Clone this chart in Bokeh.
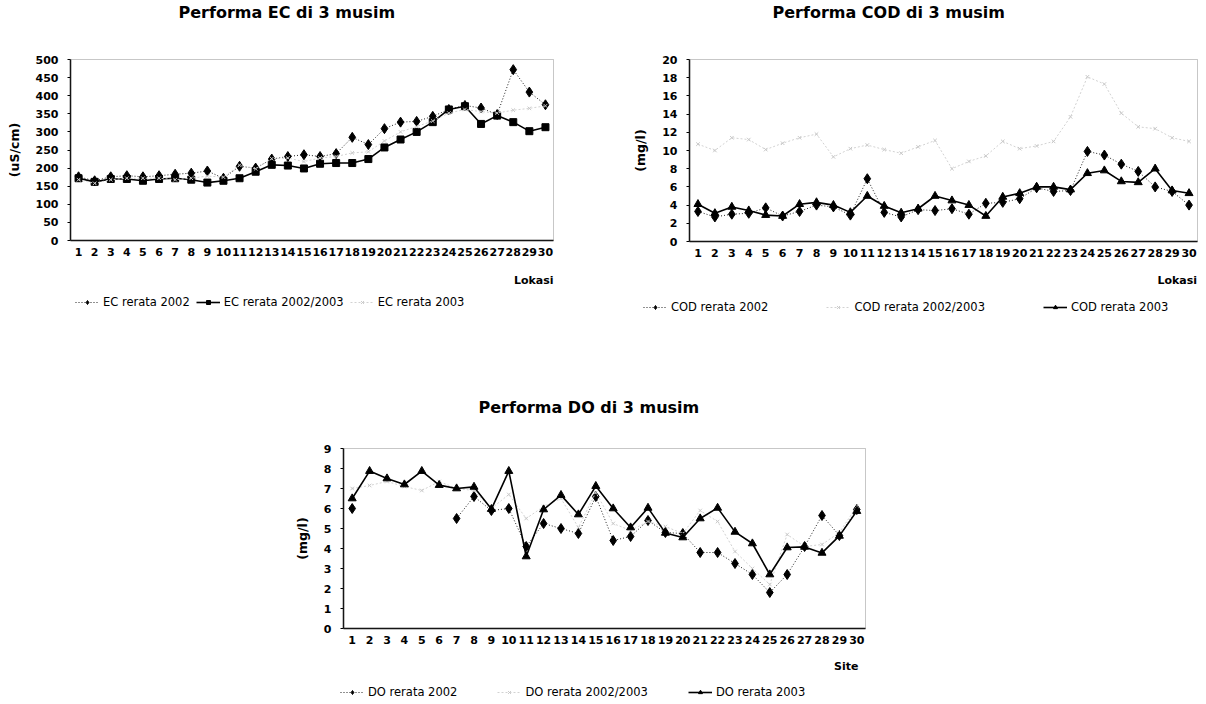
import math
from bokeh.plotting import figure
from bokeh.models import (Range1d, FixedTicker, Legend, LegendItem, Title, Spacer,
                          BoxAnnotation, Label)
from bokeh.layouts import column, row
from bokeh.embed import file_html
from bokeh.resources import INLINE

nan = float("nan")

# ---------------- data ----------------
sites = list(range(1, 31))

ec_2002 = [176, 165, 176, 179, 176, 179, 183, 186, 192, 172, 205, 200, 225, 232, 237,
           232, 240, 285, 265, 309, 327, 329, 343, 362, 373, 366, 348, 472, 410, 375]
ec_2002_2003 = [172, 162, 170, 170, 165, 170, 172, 168, 160, 165, 172, 190, 209, 207, 199,
                212, 214, 214, 225, 257, 279, 300, 327, 362, 371, 322, 345, 327, 302, 313]
ec_2003 = [168, 158, 168, 172, 172, 172, 168, 172, 178, 175, 208, 198, 226, 228, 218,
           228, 232, 242, 245, 275, 300, 315, 330, 352, 362, 356, 352, 360, 365, 372]

cod_2002 = [3.3, 2.7, 3.0, 3.1, 3.7, 2.8, 3.3, 4.0, 3.8, 2.9, 6.9, 3.2, 2.7, 3.5, 3.4,
            3.6, 3.0, 4.2, 4.3, 4.7, 5.9, 5.5, 5.6, 9.9, 9.5, 8.5, 7.7, 6.0, 5.5, 4.0]
cod_2002_2003 = [10.7, 10.0, 11.4, 11.2, 10.1, 10.8, 11.4, 11.8, 9.3, 10.2, 10.6, 10.1, 9.7, 10.4, 11.1,
                 8.0, 8.8, 9.4, 11.0, 10.2, 10.5, 11.0, 13.7, 18.1, 17.3, 14.1, 12.6, 12.4, 11.4, 11.0]
cod_2003 = [4.1, 3.1, 3.8, 3.4, 2.9, 2.8, 4.1, 4.3, 4.0, 3.2, 5.0, 3.9, 3.15, 3.6, 5.0,
            4.5, 4.0, 2.8, 4.9, 5.3, 6.0, 6.0, 5.7, 7.5, 7.8, 6.6, 6.5, 8.0, 5.6, 5.3]

do_2002 = [6.0, nan, nan, nan, nan, nan, 5.5, 6.6, 5.9, 6.0, 4.1, 5.25, 5.0, 4.75, 6.6,
           4.4, 4.6, 5.4, 4.8, 4.75, 3.8, 3.8, 3.25, 2.7, 1.8, 2.7, 4.1, 5.65, 4.65, 5.95]
do_2002_2003 = [7.0, 7.15, 7.35, 7.1, 6.9, 7.35, 7.0, 6.9, 6.0, 6.7, 5.5, 6.1, 6.5, 5.05, 6.8,
                5.25, 4.9, 5.35, 5.1, 4.75, 5.9, 5.35, 3.85, 3.0, 2.2, 4.7, 4.1, 4.2, 4.8, 6.1]
do_2003 = [6.5, 7.87, 7.5, 7.2, 7.87, 7.17, 7.0, 7.08, 5.97, 7.87, 3.6, 5.95, 6.67, 5.7, 7.12,
           6.0, 5.05, 6.03, 4.78, 4.55, 5.5, 6.03, 4.83, 4.25, 2.7, 4.05, 4.08, 3.78, 4.63, 5.87]

FONT = "DejaVu Sans"
TOP_EXTRA = 8   # px of frame above the data area so the top tick label is not clipped


def add_series(p, y, kind):
    if kind == "diamond":
        ln = p.line(sites, y, line_color="#222222", line_width=1, line_dash="1 2")
        mk = p.scatter(sites, y, marker="diamond", size=10, fill_color="black", line_color="black")
    elif kind == "square":
        ln = p.line(sites, y, line_color="black", line_width=1.6)
        mk = p.scatter(sites, y, marker="square", size=7, fill_color="black", line_color="black")
    elif kind == "triangle":
        ln = p.line(sites, y, line_color="black", line_width=1.6)
        mk = p.scatter(sites, y, marker="triangle", size=8, fill_color="black", line_color="black")
    else:
        ln = p.line(sites, y, line_color="#d2d2d2", line_width=1, line_dash="2 2")
        mk = p.scatter(sites, y, marker="x", size=5, line_color="#c8c8c8")
    return [ln, mk]


def make_chart(title, title_offset, title_gap, ylabel, xlabel, ymax, ystep, series,
               canvas_w, data_left, data_w, top_border, data_h, below_h,
               xlabel_dx, xlabel_dy, legend_vx, legend_vy, legend_spacing):
    upx = 30.0 / data_w                     # x units per pixel
    x0 = 0.5 - data_left * upx
    x1 = 30.5 + (canvas_w - data_left - data_w) * upx
    vpx = ymax / float(data_h)              # y units per pixel
    y0 = -below_h * vpx
    y1 = ymax + TOP_EXTRA * vpx

    p = figure(frame_width=canvas_w, frame_height=TOP_EXTRA + data_h + below_h,
               x_range=Range1d(x0, x1), y_range=Range1d(y0, y1),
               output_backend="svg", toolbar_location=None,
               min_border_left=0, min_border_right=0,
               min_border_top=top_border - TOP_EXTRA, min_border_bottom=0,
               background_fill_color="white", border_fill_color="white")
    p.title.visible = False
    p.outline_line_color = None
    p.xgrid.visible = False
    p.ygrid.visible = False

    p.add_layout(Title(text=" ", text_font_size="1px", standoff=title_gap), "above")
    p.add_layout(Title(text=title, align="left", offset=title_offset, standoff=0,
                       text_font=FONT, text_font_size="16px", text_font_style="bold",
                       text_color="black"), "above")

    p.add_layout(BoxAnnotation(left=0.5, right=30.5, bottom=0, top=ymax,
                               fill_alpha=0, line_color="#444444", line_width=1))

    xa = p.xaxis[0]
    xa.fixed_location = 0
    xa.bounds = (0.5, 30.5)
    xa.ticker = FixedTicker(ticks=sites)
    xa.major_tick_out = 0
    xa.major_tick_in = 0
    xa.minor_tick_out = 0
    xa.minor_tick_in = 0
    xa.major_label_standoff = 7
    xa.major_label_text_font = FONT
    xa.major_label_text_font_size = "11px"
    xa.major_label_text_font_style = "bold"
    xa.major_label_text_color = "black"
    xa.axis_line_color = "black"
    xa.axis_line_width = 1.5

    ya = p.yaxis[0]
    ya.fixed_location = 0.5
    ya.bounds = (0, ymax)
    ya.ticker = FixedTicker(ticks=[i * ystep for i in range(int(round(ymax / ystep)) + 1)])
    ya.major_tick_out = 3
    ya.major_tick_in = 0
    ya.minor_tick_out = 0
    ya.minor_tick_in = 0
    ya.major_label_standoff = 9
    ya.major_label_text_font = FONT
    ya.major_label_text_font_size = "11px"
    ya.major_label_text_font_style = "bold"
    ya.major_label_text_color = "black"
    ya.axis_line_color = "black"
    ya.axis_line_width = 1.5
    ya.axis_label = ylabel
    ya.axis_label_standoff = 11
    ya.axis_label_text_font = FONT
    ya.axis_label_text_font_size = "12.5px"
    ya.axis_label_text_font_style = "bold"
    ya.axis_label_text_color = "black"

    items = []
    for label, vals, kind in series:
        rs = add_series(p, vals, kind)
        items.append(LegendItem(label=label, renderers=rs))

    p.add_layout(Label(x=30.5 - xlabel_dx * upx, y=-xlabel_dy * vpx, text=xlabel,
                       text_align="right", text_baseline="middle",
                       text_font=FONT, text_font_size="11px", text_font_style="bold",
                       text_color="black"))

    legend = Legend(items=items, orientation="horizontal", location=(legend_vx, legend_vy),
                    border_line_alpha=0, background_fill_alpha=0,
                    label_text_font=FONT, label_text_font_size="11.5px", label_text_color="black",
                    glyph_width=24, glyph_height=10, label_standoff=4,
                    spacing=legend_spacing, padding=2, margin=0)
    p.add_layout(legend, "center")
    return p


# canvas_w, data_left, data_w, top_border, data_h, below_h,
# xlabel_dx, xlabel_dy, legend_vx, legend_vy, legend_spacing
ec = make_chart("Performa EC di 3 musim", 170, 27, "(uS/cm)", "Lokasi", 500, 50,
                [("EC rerata 2002", ec_2002, "diamond"),
                 ("EC rerata 2002/2003", ec_2002_2003, "square"),
                 ("EC rerata 2003", ec_2003, "light")],
                592, 62, 483, 58, 181, 81, 0, 40, 65, 10, 6)

cod = make_chart("Performa COD di 3 musim", 172, 27, "(mg/l)", "Lokasi", 20, 2,
                 [("COD rerata 2002", cod_2002, "diamond"),
                  ("COD rerata 2002/2003", cod_2002_2003, "light"),
                  ("COD rerata 2003", cod_2003, "triangle")],
                 598, 89, 508, 59, 182, 79, 0.5, 39, 41, 4, 58)

do = make_chart("Performa DO di 3 musim", 198, 21, "(mg/l)", "Site", 9, 1,
                [("DO rerata 2002", do_2002, "diamond"),
                 ("DO rerata 2002/2003", do_2002_2003, "light"),
                 ("DO rerata 2003", do_2003, "triangle")],
                600, 63, 522, 127, 180, 76, 7, 38, 58, 3, 40)

layout = row(Spacer(width=8, height=10),
             column(row(ec, cod), row(Spacer(width=272, height=10), do)))

open("out.html", "w").write(file_html(layout, INLINE))
